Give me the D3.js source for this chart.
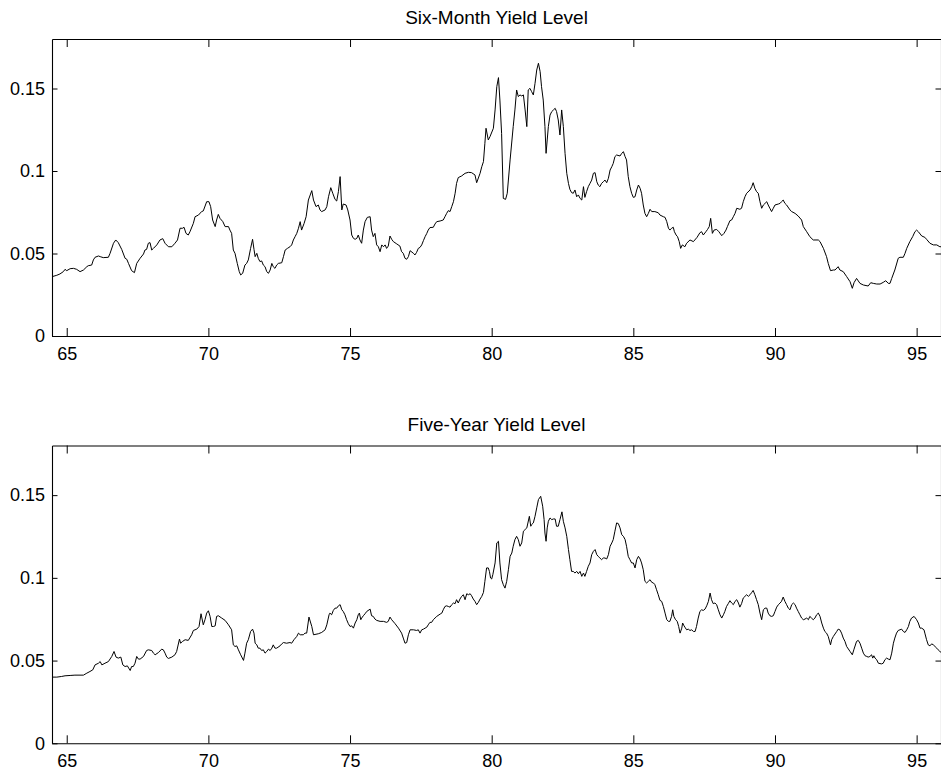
<!DOCTYPE html>
<html>
<head>
<meta charset="utf-8">
<script src="https://cdn.jsdelivr.net/npm/d3@7"></script>
<style>
  body { margin: 0; background: #fff; }
  svg { display: block; }
</style>
</head>
<body>
<svg id="chart" width="941" height="773"></svg>
<script>
// Panel titles and axis ticks
const panelTitles = ["Six-Month Yield Level", "Five-Year Yield Level"];
const xTickValues = [65, 70, 75, 80, 85, 90, 95];
const xTickLabels = ["65", "70", "75", "80", "85", "90", "95"];
const yTickValues = [0, 0.05, 0.1, 0.15];
const yTickLabels = ["0", "0.05", "0.1", "0.15"];
const yearDomain = [64.48, 95.86];
const yieldDomain = [0, 0.18];

// Six-month yield level, [year, yield]
const sixMonthSeries = [
  [64.49,.0360],[64.65,.0368],[64.76,.0376],[64.88,.0390],[64.94,.0404],[65.00,.0396],[65.12,.0408],[65.24,.0410],
  [65.35,.0404],[65.47,.0390],[65.59,.0400],[65.71,.0420],[65.76,.0426],[65.88,.0430],[65.94,.0461],[66.00,.0477],
  [66.12,.0485],[66.18,.0481],[66.29,.0475],[66.47,.0477],[66.53,.0501],[66.65,.0562],[66.73,.0582],[66.82,.0566],
  [66.94,.0525],[67.06,.0471],[67.12,.0465],[67.18,.0440],[67.29,.0396],[67.39,.0384],[67.47,.0440],[67.59,.0471],
  [67.71,.0497],[67.76,.0521],[67.82,.0525],[67.88,.0562],[67.94,.0566],[68.00,.0521],[68.06,.0531],[68.18,.0552],
  [68.29,.0582],[68.39,.0590],[68.47,.0562],[68.59,.0541],[68.71,.0541],[68.82,.0562],[68.91,.0582],[69.00,.0653],
  [69.09,.0653],[69.14,.0659],[69.21,.0622],[69.29,.0612],[69.35,.0632],[69.47,.0683],[69.53,.0723],[69.65,.0733],
  [69.76,.0754],[69.82,.0758],[69.94,.0814],[70.02,.0814],[70.08,.0784],[70.15,.0703],[70.24,.0663],[70.29,.0703],
  [70.35,.0737],[70.41,.0713],[70.51,.0693],[70.59,.0663],[70.71,.0663],[70.76,.0642],[70.82,.0622],[70.88,.0521],
  [70.94,.0501],[71.02,.0440],[71.09,.0390],[71.14,.0370],[71.21,.0380],[71.29,.0430],[71.35,.0440],[71.41,.0461],
  [71.49,.0531],[71.56,.0586],[71.61,.0525],[71.65,.0481],[71.71,.0501],[71.76,.0471],[71.82,.0451],[71.88,.0455],
  [71.94,.0430],[72.00,.0420],[72.06,.0390],[72.12,.0380],[72.18,.0400],[72.24,.0440],[72.29,.0420],[72.35,.0410],
  [72.41,.0430],[72.47,.0440],[72.59,.0444],[72.65,.0481],[72.71,.0521],[72.79,.0531],[72.88,.0541],[72.94,.0552],
  [73.00,.0582],[73.06,.0602],[73.12,.0622],[73.18,.0653],[73.24,.0693],[73.29,.0642],[73.38,.0683],[73.45,.0723],
  [73.53,.0824],[73.65,.0881],[73.71,.0824],[73.80,.0784],[73.88,.0794],[73.94,.0764],[74.00,.0754],[74.12,.0764],
  [74.18,.0784],[74.24,.0844],[74.32,.0899],[74.39,.0865],[74.47,.0828],[74.53,.0818],[74.59,.0875],[74.65,.0966],
  [74.71,.0764],[74.76,.0800],[74.86,.0794],[74.92,.0764],[75.00,.0703],[75.06,.0612],[75.12,.0592],[75.18,.0586],
  [75.24,.0592],[75.29,.0612],[75.35,.0582],[75.41,.0562],[75.47,.0642],[75.53,.0693],[75.61,.0719],[75.71,.0723],
  [75.76,.0642],[75.82,.0602],[75.88,.0622],[75.94,.0552],[76.00,.0541],[76.06,.0511],[76.12,.0552],[76.18,.0541],
  [76.24,.0552],[76.29,.0531],[76.35,.0545],[76.41,.0606],[76.47,.0586],[76.53,.0572],[76.65,.0558],[76.76,.0545],
  [76.82,.0511],[76.88,.0501],[76.94,.0471],[77.00,.0465],[77.06,.0481],[77.12,.0517],[77.24,.0501],[77.29,.0491],
  [77.35,.0507],[77.41,.0531],[77.47,.0537],[77.53,.0552],[77.59,.0578],[77.65,.0602],[77.71,.0622],[77.76,.0642],
  [77.82,.0657],[77.94,.0659],[78.00,.0679],[78.06,.0693],[78.18,.0697],[78.29,.0703],[78.35,.0723],[78.41,.0743],
  [78.47,.0760],[78.53,.0754],[78.59,.0784],[78.65,.0814],[78.71,.0865],[78.76,.0925],[78.82,.0960],[78.94,.0970],
  [79.06,.0986],[79.18,.0992],[79.29,.0990],[79.41,.0976],[79.47,.0929],[79.59,.0986],[79.65,.1026],[79.71,.1057],
  [79.76,.1168],[79.80,.1259],[79.88,.1188],[79.94,.1208],[80.06,.1259],[80.12,.1370],[80.18,.1511],[80.24,.1566],
  [80.29,.1430],[80.35,.1228],[80.41,.0834],[80.49,.0828],[80.55,.0865],[80.65,.1067],[80.76,.1269],[80.82,.1370],
  [80.88,.1491],[80.94,.1451],[81.00,.1461],[81.06,.1455],[81.12,.1461],[81.18,.1370],[81.24,.1269],[81.29,.1491],
  [81.35,.1501],[81.41,.1481],[81.47,.1461],[81.53,.1531],[81.59,.1612],[81.65,.1653],[81.71,.1602],[81.76,.1511],
  [81.82,.1430],[81.88,.1269],[81.92,.1107],[81.96,.1188],[82.00,.1269],[82.06,.1339],[82.12,.1360],[82.18,.1370],
  [82.24,.1380],[82.29,.1360],[82.35,.1309],[82.41,.1218],[82.47,.1370],[82.53,.1269],[82.59,.1107],[82.65,.0986],
  [82.71,.0925],[82.76,.0889],[82.82,.0869],[82.88,.0865],[82.94,.0885],[83.00,.0844],[83.06,.0855],[83.12,.0834],
  [83.18,.0824],[83.24,.0905],[83.29,.0840],[83.35,.0875],[83.41,.0905],[83.47,.0925],[83.53,.0945],[83.59,.0986],
  [83.65,.0990],[83.71,.0935],[83.76,.0915],[83.82,.0905],[83.88,.0925],[83.94,.0935],[84.00,.0945],[84.06,.0929],
  [84.12,.0956],[84.18,.1006],[84.24,.1026],[84.29,.1046],[84.35,.1087],[84.41,.1097],[84.53,.1091],[84.59,.1107],
  [84.65,.1117],[84.71,.1087],[84.76,.1067],[84.82,.0966],[84.88,.0905],[84.94,.0865],[85.00,.0840],[85.06,.0844],
  [85.12,.0885],[85.18,.0915],[85.24,.0895],[85.29,.0865],[85.35,.0794],[85.41,.0743],[85.47,.0723],[85.53,.0743],
  [85.59,.0768],[85.65,.0754],[85.76,.0754],[85.88,.0747],[85.94,.0733],[86.06,.0723],[86.12,.0719],[86.18,.0693],
  [86.24,.0653],[86.29,.0642],[86.35,.0653],[86.41,.0659],[86.45,.0632],[86.51,.0612],[86.56,.0602],[86.62,.0572],
  [86.67,.0531],[86.73,.0552],[86.82,.0541],[86.88,.0562],[87.00,.0582],[87.12,.0572],[87.25,.0598],[87.35,.0626],
  [87.41,.0632],[87.47,.0612],[87.56,.0632],[87.62,.0646],[87.68,.0663],[87.73,.0713],[87.79,.0622],[87.85,.0642],
  [87.94,.0646],[88.02,.0632],[88.12,.0608],[88.20,.0622],[88.27,.0642],[88.32,.0663],[88.41,.0699],[88.47,.0703],
  [88.53,.0723],[88.59,.0743],[88.65,.0774],[88.76,.0768],[88.82,.0774],[88.88,.0814],[88.94,.0844],[89.00,.0865],
  [89.12,.0885],[89.18,.0905],[89.23,.0929],[89.29,.0895],[89.35,.0875],[89.41,.0865],[89.47,.0814],[89.53,.0774],
  [89.59,.0794],[89.65,.0804],[89.71,.0814],[89.76,.0794],[89.82,.0774],[89.88,.0754],[89.94,.0774],[90.00,.0794],
  [90.12,.0800],[90.18,.0804],[90.23,.0814],[90.29,.0824],[90.35,.0804],[90.41,.0794],[90.53,.0764],[90.59,.0754],
  [90.71,.0743],[90.82,.0727],[90.94,.0703],[91.00,.0663],[91.12,.0632],[91.23,.0602],[91.35,.0582],[91.53,.0582],
  [91.59,.0572],[91.71,.0531],[91.82,.0481],[91.88,.0440],[91.96,.0396],[92.06,.0400],[92.12,.0400],[92.23,.0420],
  [92.29,.0400],[92.41,.0390],[92.53,.0360],[92.65,.0329],[92.73,.0289],[92.79,.0323],[92.88,.0349],[93.00,.0319],
  [93.12,.0309],[93.29,.0303],[93.38,.0323],[93.47,.0319],[93.59,.0315],[93.71,.0315],[93.82,.0325],[93.91,.0335],
  [94.00,.0319],[94.06,.0319],[94.12,.0349],[94.23,.0400],[94.35,.0471],[94.41,.0477],[94.53,.0477],[94.59,.0501],
  [94.65,.0531],[94.76,.0572],[94.86,.0602],[94.94,.0632],[95.00,.0642],[95.06,.0632],[95.18,.0606],[95.29,.0598],
  [95.35,.0586],[95.47,.0562],[95.59,.0552],[95.71,.0552],[95.82,.0541],[95.86,.0541]
];

// Five-year yield level, [year, yield]
const fiveYearSeries = [
  [64.49,.0400],[64.65,.0400],[64.82,.0404],[64.94,.0408],[65.12,.0410],[65.29,.0412],[65.59,.0412],[65.71,.0424],
  [65.82,.0434],[65.92,.0444],[66.00,.0474],[66.12,.0484],[66.18,.0494],[66.24,.0474],[66.35,.0484],[66.47,.0494],
  [66.59,.0525],[66.67,.0555],[66.74,.0521],[66.82,.0515],[66.91,.0521],[66.98,.0474],[67.06,.0464],[67.14,.0468],
  [67.24,.0440],[67.29,.0464],[67.35,.0464],[67.41,.0484],[67.47,.0525],[67.53,.0509],[67.59,.0509],[67.71,.0525],
  [67.82,.0561],[67.88,.0565],[68.00,.0561],[68.06,.0545],[68.12,.0535],[68.24,.0549],[68.35,.0569],[68.41,.0565],
  [68.47,.0545],[68.53,.0521],[68.59,.0513],[68.71,.0521],[68.82,.0535],[68.88,.0555],[68.98,.0630],[69.02,.0605],
  [69.09,.0616],[69.18,.0626],[69.29,.0622],[69.41,.0656],[69.47,.0682],[69.59,.0690],[69.67,.0706],[69.74,.0783],
  [69.82,.0716],[69.88,.0747],[69.94,.0787],[70.00,.0801],[70.06,.0767],[70.12,.0706],[70.18,.0706],[70.24,.0710],
  [70.29,.0767],[70.35,.0771],[70.47,.0757],[70.59,.0743],[70.71,.0716],[70.82,.0686],[70.88,.0595],[70.94,.0585],
  [71.00,.0589],[71.06,.0565],[71.14,.0535],[71.24,.0501],[71.29,.0545],[71.35,.0605],[71.41,.0626],[71.49,.0676],
  [71.56,.0690],[71.61,.0666],[71.65,.0605],[71.71,.0595],[71.76,.0575],[71.82,.0575],[71.88,.0561],[71.94,.0565],
  [72.00,.0545],[72.06,.0555],[72.12,.0569],[72.18,.0561],[72.24,.0575],[72.29,.0595],[72.35,.0575],[72.41,.0575],
  [72.53,.0589],[72.59,.0601],[72.65,.0609],[72.76,.0605],[72.88,.0609],[72.94,.0605],[73.02,.0626],[73.12,.0646],
  [73.18,.0666],[73.24,.0656],[73.35,.0656],[73.41,.0666],[73.47,.0666],[73.55,.0763],[73.65,.0706],[73.71,.0656],
  [73.88,.0662],[74.00,.0670],[74.12,.0686],[74.18,.0716],[74.26,.0777],[74.29,.0787],[74.35,.0777],[74.41,.0803],
  [74.47,.0817],[74.53,.0817],[74.59,.0831],[74.65,.0838],[74.71,.0807],[74.76,.0797],[74.82,.0777],[74.88,.0747],
  [74.94,.0723],[75.00,.0706],[75.06,.0710],[75.12,.0696],[75.18,.0727],[75.24,.0747],[75.29,.0777],[75.33,.0787],
  [75.38,.0747],[75.41,.0757],[75.47,.0771],[75.53,.0783],[75.59,.0797],[75.71,.0811],[75.76,.0771],[75.82,.0767],
  [75.88,.0751],[75.94,.0743],[76.06,.0737],[76.18,.0737],[76.29,.0731],[76.35,.0737],[76.41,.0763],[76.47,.0747],
  [76.59,.0723],[76.71,.0696],[76.82,.0666],[76.88,.0636],[76.94,.0605],[77.00,.0609],[77.06,.0656],[77.12,.0686],
  [77.24,.0686],[77.35,.0682],[77.41,.0686],[77.47,.0666],[77.53,.0686],[77.59,.0690],[77.65,.0696],[77.71,.0702],
  [77.76,.0716],[77.82,.0731],[77.88,.0731],[77.94,.0747],[78.00,.0757],[78.06,.0767],[78.18,.0781],[78.24,.0787],
  [78.29,.0807],[78.35,.0827],[78.41,.0831],[78.47,.0827],[78.53,.0823],[78.59,.0838],[78.65,.0848],[78.71,.0844],
  [78.76,.0868],[78.82,.0848],[78.88,.0872],[78.94,.0888],[79.00,.0898],[79.06,.0868],[79.12,.0904],[79.18,.0898],
  [79.24,.0904],[79.29,.0892],[79.35,.0872],[79.41,.0858],[79.47,.0838],[79.53,.0852],[79.59,.0872],[79.65,.0888],
  [79.71,.0912],[79.76,.0979],[79.82,.1060],[79.88,.1060],[79.92,.1039],[79.96,.0999],[80.00,.0993],[80.04,.1019],
  [80.12,.1090],[80.18,.1211],[80.24,.1221],[80.29,.1090],[80.35,.0989],[80.41,.0959],[80.47,.0938],[80.53,.0979],
  [80.59,.1049],[80.65,.1130],[80.71,.1150],[80.76,.1191],[80.82,.1231],[80.88,.1251],[80.94,.1231],[81.00,.1191],
  [81.06,.1211],[81.12,.1282],[81.18,.1292],[81.24,.1302],[81.33,.1372],[81.38,.1312],[81.41,.1322],[81.47,.1332],
  [81.53,.1372],[81.59,.1423],[81.65,.1473],[81.73,.1493],[81.80,.1433],[81.85,.1352],[81.88,.1271],[81.92,.1221],
  [81.96,.1302],[82.00,.1342],[82.06,.1362],[82.12,.1352],[82.18,.1356],[82.24,.1356],[82.29,.1312],[82.35,.1312],
  [82.41,.1352],[82.48,.1399],[82.53,.1342],[82.59,.1302],[82.65,.1251],[82.71,.1171],[82.76,.1110],[82.82,.1039],
  [82.88,.1039],[82.94,.1029],[83.00,.1039],[83.06,.1025],[83.12,.1039],[83.18,.1009],[83.24,.1029],[83.29,.1009],
  [83.35,.1039],[83.41,.1070],[83.47,.1090],[83.53,.1140],[83.59,.1160],[83.65,.1171],[83.71,.1140],[83.76,.1130],
  [83.82,.1120],[83.88,.1110],[83.94,.1120],[84.00,.1120],[84.06,.1114],[84.12,.1140],[84.18,.1191],[84.24,.1211],
  [84.29,.1231],[84.35,.1282],[84.41,.1332],[84.47,.1328],[84.53,.1302],[84.59,.1261],[84.65,.1251],[84.71,.1231],
  [84.76,.1191],[84.82,.1130],[84.88,.1110],[84.94,.1090],[85.00,.1090],[85.06,.1060],[85.12,.1110],[85.18,.1130],
  [85.24,.1114],[85.29,.1090],[85.35,.1049],[85.41,.0979],[85.47,.0969],[85.53,.0979],[85.59,.0989],[85.65,.0973],
  [85.71,.0969],[85.76,.0959],[85.82,.0928],[85.88,.0898],[85.94,.0864],[86.00,.0858],[86.06,.0827],[86.12,.0787],
  [86.18,.0747],[86.24,.0737],[86.29,.0737],[86.35,.0767],[86.39,.0807],[86.43,.0767],[86.49,.0747],[86.55,.0737],
  [86.60,.0706],[86.65,.0666],[86.71,.0696],[86.74,.0727],[86.79,.0710],[86.82,.0702],[86.88,.0686],[86.94,.0690],
  [87.00,.0682],[87.06,.0686],[87.12,.0676],[87.18,.0676],[87.23,.0706],[87.29,.0757],[87.35,.0797],[87.41,.0807],
  [87.47,.0803],[87.53,.0811],[87.59,.0831],[87.65,.0858],[87.71,.0908],[87.76,.0868],[87.82,.0844],[87.88,.0848],
  [87.94,.0838],[88.00,.0807],[88.06,.0777],[88.12,.0757],[88.18,.0777],[88.23,.0797],[88.29,.0827],[88.35,.0844],
  [88.41,.0862],[88.47,.0848],[88.53,.0838],[88.59,.0858],[88.65,.0868],[88.71,.0848],[88.76,.0823],[88.82,.0844],
  [88.88,.0878],[88.94,.0888],[89.00,.0898],[89.06,.0888],[89.12,.0898],[89.18,.0912],[89.23,.0924],[89.29,.0898],
  [89.35,.0868],[89.41,.0838],[89.47,.0787],[89.53,.0747],[89.59,.0807],[89.65,.0817],[89.71,.0817],[89.76,.0787],
  [89.82,.0771],[89.88,.0767],[89.94,.0771],[90.00,.0797],[90.06,.0823],[90.12,.0838],[90.18,.0848],[90.23,.0858],
  [90.29,.0884],[90.35,.0858],[90.41,.0838],[90.47,.0817],[90.53,.0807],[90.59,.0838],[90.65,.0848],[90.71,.0838],
  [90.76,.0817],[90.82,.0797],[90.88,.0777],[90.94,.0757],[91.00,.0747],[91.06,.0751],[91.12,.0757],[91.18,.0747],
  [91.23,.0767],[91.29,.0757],[91.35,.0747],[91.41,.0757],[91.47,.0777],[91.53,.0787],[91.59,.0767],[91.65,.0727],
  [91.71,.0696],[91.76,.0676],[91.82,.0666],[91.88,.0646],[91.96,.0595],[92.00,.0626],[92.06,.0646],[92.18,.0676],
  [92.23,.0690],[92.29,.0686],[92.35,.0666],[92.41,.0636],[92.47,.0616],[92.53,.0585],[92.65,.0555],[92.73,.0535],
  [92.79,.0569],[92.88,.0616],[92.94,.0622],[93.00,.0605],[93.06,.0575],[93.12,.0545],[93.18,.0529],[93.24,.0525],
  [93.29,.0521],[93.35,.0525],[93.41,.0535],[93.45,.0515],[93.49,.0529],[93.53,.0515],[93.59,.0505],[93.65,.0484],
  [93.76,.0480],[93.82,.0484],[93.88,.0505],[93.94,.0515],[94.00,.0509],[94.06,.0505],[94.12,.0545],[94.18,.0605],
  [94.23,.0636],[94.29,.0666],[94.35,.0682],[94.47,.0690],[94.53,.0676],[94.59,.0670],[94.65,.0686],[94.71,.0706],
  [94.76,.0737],[94.82,.0757],[94.91,.0767],[95.00,.0747],[95.06,.0727],[95.12,.0696],[95.18,.0696],[95.26,.0686],
  [95.29,.0666],[95.35,.0626],[95.41,.0595],[95.47,.0589],[95.53,.0601],[95.59,.0595],[95.65,.0585],[95.71,.0575],
  [95.76,.0565],[95.82,.0555],[95.86,.0550]
];

const svg = d3.select("#chart");
const fontFamily = "'Liberation Sans', Arial, Helvetica, sans-serif";

const plotLeft = 52, plotRight = 941;
const panels = [
  { title: panelTitles[0], data: sixMonthSeries, top: 39, bottom: 336 },
  { title: panelTitles[1], data: fiveYearSeries, top: 445.5, bottom: 743.3 }
];

const x = d3.scaleLinear().domain(yearDomain).range([plotLeft, plotRight]);

panels.forEach((p, i) => {
  const y = d3.scaleLinear().domain(yieldDomain).range([p.bottom, p.top]);
  const g = svg.append("g").attr("class", "panel-" + i);

  // series line
  g.append("path")
    .datum(p.data)
    .attr("fill", "none")
    .attr("stroke", "#000")
    .attr("stroke-width", 1)
    .attr("stroke-linejoin", "round")
    .attr("d", d3.line().x(d => x(d[0])).y(d => y(d[1])));

  // bottom axis with labels, ticks pointing inward
  const bottomAxis = g.append("g")
    .attr("transform", `translate(0,${p.bottom})`)
    .call(d3.axisBottom(x).tickValues(xTickValues)
      .tickFormat((d, k) => xTickLabels[k])
      .tickSizeInner(-8).tickSizeOuter(0).tickPadding(11));

  // top axis, ticks only
  const topAxis = g.append("g")
    .attr("transform", `translate(0,${p.top})`)
    .call(d3.axisTop(x).tickValues(xTickValues).tickFormat("")
      .tickSizeInner(-8).tickSizeOuter(0));

  // left axis with labels
  const leftAxis = g.append("g")
    .attr("transform", `translate(${plotLeft},0)`)
    .call(d3.axisLeft(y).tickValues(yTickValues)
      .tickFormat((d, k) => yTickLabels[k])
      .tickSizeInner(-5.5).tickSizeOuter(0).tickPadding(7));

  // right axis, ticks only
  const rightAxis = g.append("g")
    .attr("transform", `translate(${plotRight},0)`)
    .call(d3.axisRight(y).tickValues(yTickValues).tickFormat("")
      .tickSizeInner(-5.5).tickSizeOuter(0));

  [bottomAxis, topAxis, leftAxis, rightAxis].forEach(a => {
    a.attr("font-family", fontFamily).attr("font-size", 18);
    a.selectAll("path.domain").attr("stroke", "#000").attr("stroke-width", 1.1);
    a.selectAll(".tick line").attr("stroke", "#000").attr("stroke-width", 1);
    a.selectAll(".tick text").attr("fill", "#000");
  });

  // panel title
  g.append("text")
    .attr("x", (plotLeft + plotRight) / 2)
    .attr("y", p.top - 15)
    .attr("text-anchor", "middle")
    .attr("font-family", fontFamily)
    .attr("font-size", 19)
    .attr("fill", "#000")
    .text(p.title);
});
</script>
</body>
</html>
